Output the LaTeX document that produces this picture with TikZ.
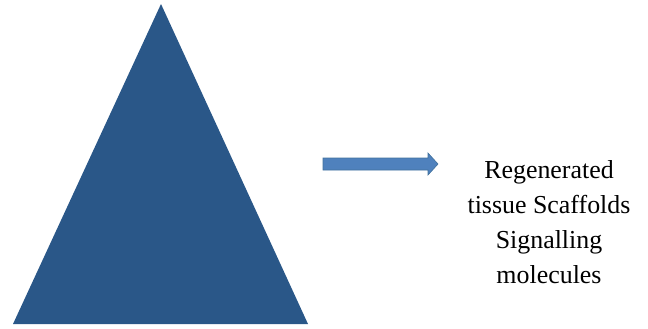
\documentclass[tikz,border=0pt]{standalone}
\usepackage{fontspec}
\setmainfont{Liberation Serif}
\definecolor{pyramidblue}{HTML}{2A5788}
\definecolor{arrowblue}{HTML}{4F81BD}
\definecolor{arrowedge}{HTML}{41719C}
\begin{document}
\begin{tikzpicture}[x=1bp,y=-1bp,
  labeltext/.style={align=center,font=\fontsize{26}{35}\selectfont,inner sep=0pt}]
\useasboundingbox (0,0) rectangle (648,328);
% pyramid
\coordinate (apex) at (161,4);
\coordinate (baseL) at (13,324);
\coordinate (baseR) at (308,324);
\fill[pyramidblue] (apex) -- (baseR) -- (baseL) -- cycle;
% block arrow
\fill[arrowblue,draw=arrowedge,line width=0.6bp]
  (323,158) -- (428,158) -- (428,153) -- (438,164) -- (428,175) -- (428,170) -- (323,170) -- cycle;
% outcome label
\node[labeltext] (outcome) at (549,222) {Regenerated\\tissue Scaffolds\\Signalling\\molecules};
\end{tikzpicture}
\end{document}
